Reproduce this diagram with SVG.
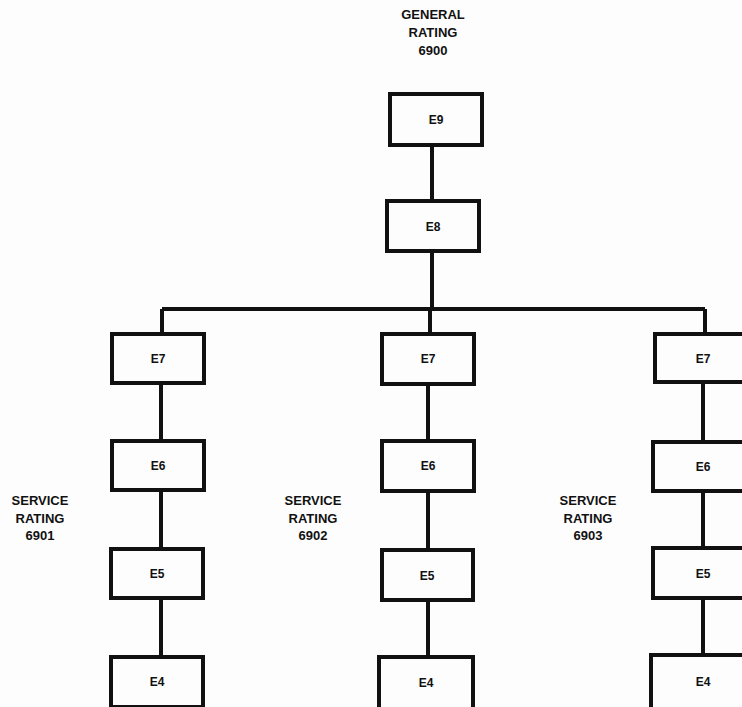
<svg xmlns="http://www.w3.org/2000/svg" width="742" height="707" viewBox="0 0 742 707">
<style>
.box{fill:#fdfdfd;stroke:#111;stroke-width:4}
.ln{fill:none;stroke:#111;stroke-width:4}
.bl{font-family:"Liberation Sans",Arial,sans-serif;font-weight:bold;font-size:12px;fill:#111;text-anchor:middle}
.lab{font-family:"Liberation Sans",Arial,sans-serif;font-weight:bold;font-size:13px;fill:#111;text-anchor:middle}
</style>
<rect width="742" height="707" fill="#fdfdfd"/>
<g id="connectors">
<path class="ln" d="M432 145V200M432 251V309M162 309H705M162 309V334M430 309V334M705 309V334"/>
<path class="ln" d="M161 383V441M161 490V549M161 598V657"/>
<path class="ln" d="M428 384V441M428 491V550M428 600V657"/>
<path class="ln" d="M703 382V442M703 491V548M703 598V655"/>
</g>
<g id="general"><text class="lab" x="433" y="19">GENERAL</text><text class="lab" x="433" y="37">RATING</text><text class="lab" x="433" y="55">6900</text></g>
<g id="s6901"><text class="lab" x="40" y="505">SERVICE</text><text class="lab" x="40" y="523">RATING</text><text class="lab" x="40" y="540">6901</text></g>
<g id="s6902"><text class="lab" x="313" y="505">SERVICE</text><text class="lab" x="313" y="523">RATING</text><text class="lab" x="313" y="540">6902</text></g>
<g id="s6903"><text class="lab" x="588" y="505">SERVICE</text><text class="lab" x="588" y="523">RATING</text><text class="lab" x="588" y="540">6903</text></g>
<g id="e9"><rect class="box" x="390" y="94" width="92" height="51"/><text class="bl" x="436" y="124">E9</text></g>
<g id="e8"><rect class="box" x="387" y="201" width="92" height="50"/><text class="bl" x="433" y="231">E8</text></g>
<g id="l7"><rect class="box" x="112" y="334" width="92" height="49"/><text class="bl" x="158" y="363">E7</text></g>
<g id="l6"><rect class="box" x="112" y="441" width="92" height="49"/><text class="bl" x="158" y="470">E6</text></g>
<g id="l5"><rect class="box" x="111" y="549" width="92" height="49"/><text class="bl" x="157" y="578">E5</text></g>
<g id="l4"><rect class="box" x="111" y="657" width="92" height="50"/><text class="bl" x="157" y="686">E4</text></g>
<g id="m7"><rect class="box" x="382" y="334" width="92" height="50"/><text class="bl" x="428" y="363">E7</text></g>
<g id="m6"><rect class="box" x="382" y="441" width="92" height="50"/><text class="bl" x="428" y="470">E6</text></g>
<g id="m5"><rect class="box" x="382" y="550" width="91" height="50"/><text class="bl" x="427" y="580">E5</text></g>
<g id="m4"><rect class="box" x="379" y="657" width="94" height="52"/><text class="bl" x="426" y="687">E4</text></g>
<g id="r7"><rect class="box" x="655" y="334" width="92" height="48"/><text class="bl" x="703" y="363">E7</text></g>
<g id="r6"><rect class="box" x="653" y="442" width="94" height="49"/><text class="bl" x="703" y="471">E6</text></g>
<g id="r5"><rect class="box" x="653" y="548" width="94" height="50"/><text class="bl" x="703" y="578">E5</text></g>
<g id="r4"><rect class="box" x="651" y="655" width="96" height="54"/><text class="bl" x="703" y="686">E4</text></g>
</svg>
